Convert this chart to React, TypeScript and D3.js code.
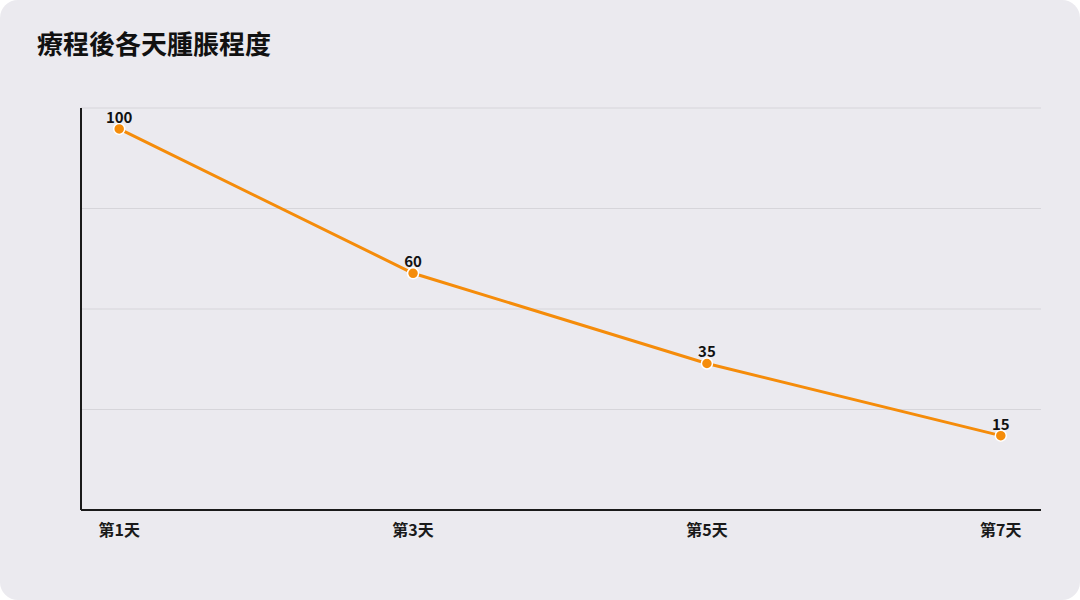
import React from 'react';
import * as d3 from 'd3';

// Chart data
const days: string[] = ['第1天', '第3天', '第5天', '第7天'];
const swelling: number[] = [100, 60, 35, 15];
const title = '療程後各天腫脹程度';

const W = 1080;
const H = 600;
const margin = { top: 108, right: 39, bottom: 90, left: 81 };
const font = '"Noto Sans CJK TC", "Noto Sans", sans-serif';
const orange = '#f58c0a';

export default function App() {
  const innerW = W - margin.left - margin.right;
  const innerH = H - margin.top - margin.bottom;

  const x = d3.scalePoint<string>()
    .domain(days)
    .range([0, innerW - 2])
    .padding(0.13);

  const yDomain: [number, number] = [-5.6, 105.8];
  const y = d3.scaleLinear().domain(yDomain).range([innerH, 0]);
  const gridVals = d3.range(5).map(i => yDomain[0] + (i * (yDomain[1] - yDomain[0])) / 4);

  const line = d3.line<number>()
    .x((_, i) => x(days[i]) as number)
    .y(d => y(d));

  return (
    <div style={{ position: 'fixed', left: 0, top: 0, width: W, height: H, background: '#fff' }}>
      <svg width={W} height={H} style={{ display: 'block' }}>
        <rect x={0} y={0} width={W} height={H} rx={18} fill="#ebeaef" />
        <text x={37} y={54} fontFamily={font} fontSize={26} fontWeight={700} fill="#111">
          {title}
        </text>
        <g transform={`translate(${margin.left},${margin.top})`}>
          {gridVals.slice(1).map((v, i) => (
            <line key={i} x1={0} x2={innerW} y1={y(v)} y2={y(v)} stroke="#d6d5da" strokeWidth={1} />
          ))}
          <line x1={0} x2={0} y1={0} y2={innerH} stroke="#1a1a1a" strokeWidth={2} />
          <line x1={0} x2={innerW} y1={innerH} y2={innerH} stroke="#1a1a1a" strokeWidth={2} />
          {days.map(d => (
            <text key={d} x={x(d)} y={innerH + 26} textAnchor="middle" fontFamily={font}
              fontSize={16} fontWeight={700} fill="#1a1a1a">
              {d}
            </text>
          ))}
          <path d={line(swelling) || ''} fill="none" stroke={orange} strokeWidth={3} />
          {swelling.map((v, i) => (
            <g key={i}>
              <circle cx={x(days[i])} cy={y(v)} r={5.5} fill={orange} stroke="#fff" strokeWidth={1.5} />
              <text x={x(days[i])} y={y(v) - 6} textAnchor="middle" fontFamily={font}
                fontSize={15} fontWeight={700} fill="#111">
                {v}
              </text>
            </g>
          ))}
        </g>
      </svg>
    </div>
  );
}
